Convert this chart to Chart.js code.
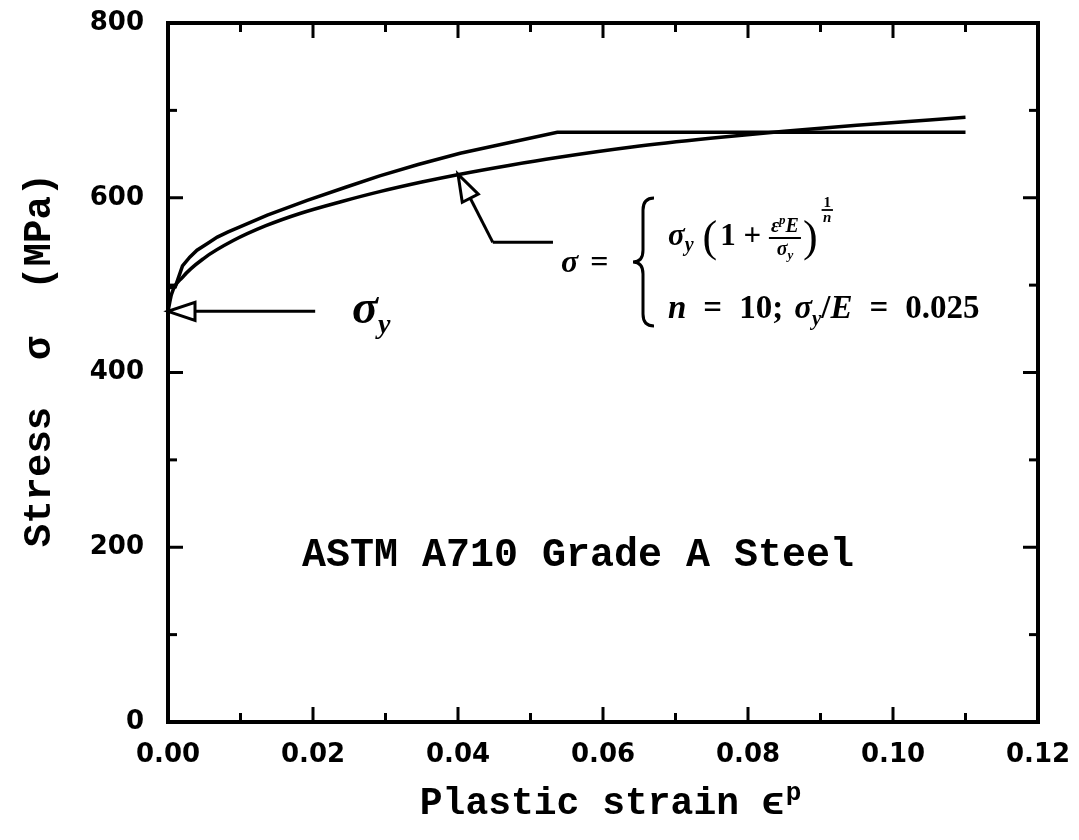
<!DOCTYPE html>
<html>
<head>
<meta charset="utf-8">
<script src="https://cdn.jsdelivr.net/npm/chart.js@4.4.0/dist/chart.umd.min.js"></script>
<style>
html, body { margin: 0; padding: 0; background: #fff; }
#wrap { width: 1079px; height: 840px; }
</style>
</head>
<body>
<div id="wrap"><canvas id="chart" width="1079" height="840"></canvas></div>
<script>
// values (strain, MPa)
const strainPower = [0, 0.0005, 0.002, 0.005, 0.009, 0.0135, 0.0182, 0.0241, 0.0292, 0.035, 0.0403, 0.047, 0.0537, 0.064, 0.0748, 0.085, 0.095, 0.11];
const stressPower = [470, 490, 509, 531, 551, 568, 582, 596, 607, 618, 627, 637, 646, 658, 668, 676, 683, 692];

const strainTest = [0, 0, 0.001, 0.002, 0.003, 0.004, 0.0055, 0.0068, 0.0083, 0.01, 0.0137, 0.0192, 0.0245, 0.0292, 0.0345, 0.0403, 0.047, 0.0537, 0.11];
const stressTest = [470, 497, 498, 522, 532, 540, 548, 555, 561, 567, 580, 597, 612, 625, 638, 651, 663, 675, 675];

const xMin = 0, xMax = 0.12, xStep = 0.01;
const yMin = 0, yMax = 800, yStep = 100;

// annotation anchors (data coords)
const yieldStress = 470;
const yieldArrowTail = 0.0203;
const formulaTip = [0.0400, 627];
const formulaBend = [0.0448, 549];
const formulaEnd = [0.0531, 549];

function toPoints(xs, ys) {
    return xs.map((v, i) => ({ x: v, y: ys[i] }));
}

const serif = "'Liberation Serif', 'DejaVu Serif', serif";
const mono = "'Liberation Mono', 'DejaVu Sans Mono', monospace";
const BI = s => `italic bold ${s}px ${serif}`;
const B = s => `bold ${s}px ${serif}`;
const R = s => `${s}px ${serif}`;

function drawRuns(ctx, x, y, runs) {
    runs.forEach(r => {
        ctx.font = r.f;
        ctx.fillText(r.t, x, y + (r.dy || 0));
        x += ctx.measureText(r.t).width + (r.gap || 0);
    });
    return x;
}

function runsWidth(ctx, runs) {
    let w = 0;
    runs.forEach(r => { ctx.font = r.f; w += ctx.measureText(r.t).width + (r.gap || 0); });
    return w;
}

function hollowArrow(ctx, tx, ty, fx, fy) {
    // tip at (tx,ty), shaft coming from (fx,fy)
    const ang = Math.atan2(fy - ty, fx - tx);
    const len = 27, half = 9;
    const bx = tx + Math.cos(ang) * len, by = ty + Math.sin(ang) * len;
    const px = -Math.sin(ang) * half, py = Math.cos(ang) * half;
    ctx.beginPath();
    ctx.moveTo(fx, fy);
    ctx.lineTo(bx, by);
    ctx.stroke();
    ctx.beginPath();
    ctx.moveTo(tx, ty);
    ctx.lineTo(bx + px, by + py);
    ctx.lineTo(bx - px, by - py);
    ctx.closePath();
    ctx.fillStyle = '#fff';
    ctx.fill();
    ctx.stroke();
    ctx.fillStyle = '#000';
}

// keep chart.js from reserving extra room for label overhang
function fixScale(size) {
    return s => {
        if (s.isHorizontal()) s.height = size; else s.width = size;
        s.paddingTop = 0; s.paddingBottom = 0; s.paddingLeft = 0; s.paddingRight = 0;
    };
}

const frameTicks = {
    id: 'frameTicks',
    afterDatasetsDraw(chart) {
        const { ctx, chartArea: a, scales: { x, y } } = chart;
        ctx.save();
        ctx.strokeStyle = '#000';
        ctx.lineWidth = 3;
        const seg = (x1, y1, x2, y2) => { ctx.beginPath(); ctx.moveTo(x1, y1); ctx.lineTo(x2, y2); ctx.stroke(); };
        x.ticks.forEach((t, i) => {
            const px = x.getPixelForValue(t.value);
            const len = i % 2 === 0 ? 15 : 9;
            seg(px, a.bottom, px, a.bottom - len);
            seg(px, a.top, px, a.top + len);
        });
        y.ticks.forEach((t, i) => {
            const py = y.getPixelForValue(t.value);
            const len = i % 2 === 0 ? 15 : 9;
            seg(a.left, py, a.left + len, py);
            seg(a.right, py, a.right - len, py);
        });
        ctx.lineWidth = 4;
        ctx.strokeRect(a.left, a.top, a.right - a.left, a.bottom - a.top);
        ctx.restore();
    },
    afterDraw(chart) {
        const { ctx, chartArea: a, scales: { x, y } } = chart;
        ctx.save();
        ctx.fillStyle = '#000';
        ctx.strokeStyle = '#000';
        ctx.lineWidth = 3;
        ctx.textBaseline = 'alphabetic';
        ctx.textAlign = 'left';

        // sigma_y arrow
        const yy = y.getPixelForValue(yieldStress);
        hollowArrow(ctx, x.getPixelForValue(0), yy, x.getPixelForValue(yieldArrowTail), yy);
        drawRuns(ctx, 352, yy + 12, [
            { t: 'σ', f: BI(48) },
            { t: 'y', f: BI(28), dy: 10 }
        ]);

        // formula arrow
        const tip = [x.getPixelForValue(formulaTip[0]), y.getPixelForValue(formulaTip[1])];
        const bend = [x.getPixelForValue(formulaBend[0]), y.getPixelForValue(formulaBend[1])];
        const end = [x.getPixelForValue(formulaEnd[0]), y.getPixelForValue(formulaEnd[1])];
        ctx.beginPath();
        ctx.moveTo(bend[0], bend[1]);
        ctx.lineTo(end[0], end[1]);
        ctx.stroke();
        hollowArrow(ctx, tip[0], tip[1], bend[0], bend[1]);

        // sigma =
        drawRuns(ctx, 561, 272, [
            { t: 'σ', f: BI(32), gap: 12 },
            { t: '=', f: B(32) }
        ]);

        // brace
        ctx.lineWidth = 3;
        const bTop = 198, bBot = 326, bMid = (bTop + bBot) / 2;
        const xe = 654, xs = 643, xt = 633;
        ctx.beginPath();
        ctx.moveTo(xe, bTop);
        ctx.quadraticCurveTo(xs, bTop, xs, bTop + 12);
        ctx.lineTo(xs, bMid - 12);
        ctx.quadraticCurveTo(xs, bMid, xt, bMid);
        ctx.quadraticCurveTo(xs, bMid, xs, bMid + 12);
        ctx.lineTo(xs, bBot - 12);
        ctx.quadraticCurveTo(xs, bBot, xe, bBot);
        ctx.stroke();

        // first row: sigma_y (1 + eps^p E / sigma_y)^(1/n)
        let cx = drawRuns(ctx, 668, 245, [
            { t: 'σ', f: BI(31) },
            { t: 'y', f: BI(20), dy: 6, gap: 9 },
            { t: '(', f: R(44), dy: 6, gap: 3 },
            { t: '1 + ', f: B(31) }
        ]);
        const num = [{ t: 'ε', f: BI(20) }, { t: 'p', f: BI(13), dy: -8 }, { t: 'E', f: BI(20) }];
        const den = [{ t: 'σ', f: BI(20) }, { t: 'y', f: BI(13), dy: 4 }];
        const nw = runsWidth(ctx, num), dw = runsWidth(ctx, den);
        const fw = Math.max(nw, dw) + 4;
        drawRuns(ctx, cx + (fw - nw) / 2, 232, num);
        drawRuns(ctx, cx + (fw - dw) / 2, 255, den);
        ctx.lineWidth = 1.8;
        ctx.beginPath(); ctx.moveTo(cx, 238); ctx.lineTo(cx + fw, 238); ctx.stroke();
        cx = drawRuns(ctx, cx + fw + 2, 245, [{ t: ')', f: R(44), dy: 6, gap: 4 }]);
        ctx.font = B(15);
        const ew = ctx.measureText('n').width + 3;
        ctx.textAlign = 'center';
        ctx.fillText('1', cx + ew / 2, 207);
        ctx.beginPath(); ctx.moveTo(cx, 210); ctx.lineTo(cx + ew, 210); ctx.stroke();
        ctx.font = BI(15);
        ctx.fillText('n', cx + ew / 2, 222);
        ctx.textAlign = 'left';

        // second row
        drawRuns(ctx, 668, 318, [
            { t: 'n', f: BI(33), gap: 17 },
            { t: '=', f: B(33), gap: 17 },
            { t: '10;', f: B(33), gap: 11 },
            { t: 'σ', f: BI(33) },
            { t: 'y', f: BI(21), dy: 7 },
            { t: '/', f: B(33) },
            { t: 'E', f: BI(33), gap: 17 },
            { t: '=', f: B(33), gap: 17 },
            { t: '0.025', f: B(33) }
        ]);

        // material label
        ctx.font = `bold 40px ${mono}`;
        ctx.textAlign = 'center';
        ctx.fillText('ASTM A710 Grade A Steel', 578, 566);

        // axis titles
        ctx.font = `bold 38px ${mono}`;
        const main = 'Plastic strain ϵ';
        const mw = ctx.measureText(main).width;
        ctx.font = `bold 26px ${mono}`;
        const pw = ctx.measureText('p').width;
        let tx = 610 - (mw + pw) / 2;
        ctx.textAlign = 'left';
        ctx.font = `bold 38px ${mono}`;
        ctx.fillText(main, tx, 814);
        ctx.font = `bold 26px ${mono}`;
        ctx.fillText('p', tx + mw + 1, 800);

        ctx.translate(40, 360);
        ctx.rotate(-Math.PI / 2);
        ctx.textAlign = 'center';
        ctx.textBaseline = 'middle';
        ctx.font = `bold 39px ${mono}`;
        ctx.fillText('Stress  σ  (MPa)', 0, 0);
        ctx.restore();
    }
};

new Chart(document.getElementById('chart'), {
    type: 'scatter',
    data: {
        datasets: [
            {
                label: 'power law',
                data: toPoints(strainPower, stressPower),
                showLine: true,
                borderColor: '#000',
                borderWidth: 3.5,
                pointRadius: 0,
                cubicInterpolationMode: 'monotone'
            },
            {
                label: 'test',
                data: toPoints(strainTest, stressTest),
                showLine: true,
                borderColor: '#000',
                borderWidth: 3.5,
                pointRadius: 0,
                tension: 0
            }
        ]
    },
    options: {
        responsive: false,
        animation: false,
        layout: { autoPadding: false, padding: { top: 23, right: 41, left: 0, bottom: 0 } },
        plugins: { legend: { display: false }, tooltip: { enabled: false } },
        scales: {
            x: {
                type: 'linear',
                min: xMin, max: xMax,
                grid: { display: false, drawTicks: false },
                border: { display: false },
                ticks: {
                    stepSize: xStep,
                    padding: 18,
                    color: '#000',
                    maxRotation: 0,
                    autoSkip: false,
                    font: { family: "'DejaVu Sans'", size: 26, weight: 'bold' },
                    callback: (v, i) => i % 2 === 0 ? v.toFixed(2) : ''
                },
                afterFit: fixScale(118)
            },
            y: {
                type: 'linear',
                min: yMin, max: yMax,
                grid: { display: false, drawTicks: false },
                border: { display: false },
                ticks: {
                    stepSize: yStep,
                    padding: 24,
                    color: '#000',
                    autoSkip: false,
                    font: { family: "'DejaVu Sans'", size: 26, weight: 'bold' },
                    callback: v => v % 200 === 0 ? String(v) : ''
                },
                afterFit: fixScale(168)
            }
        }
    },
    plugins: [frameTicks]
});
</script>
</body>
</html>
